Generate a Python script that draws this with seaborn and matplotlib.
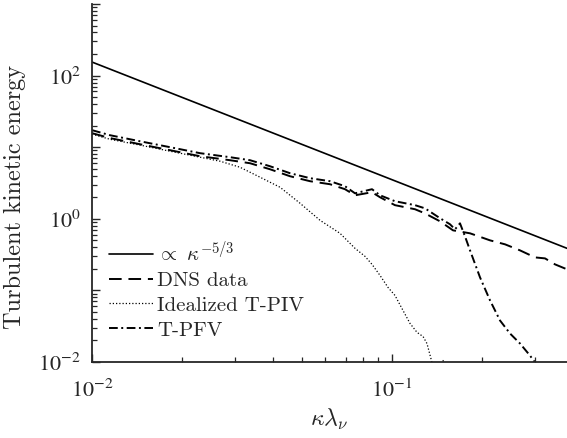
import matplotlib
matplotlib.use("Agg")
import matplotlib.pyplot as plt
import seaborn as sns
from matplotlib.ticker import LogLocator, FuncFormatter, NullFormatter

# Reference slope line
ref_k = [0.01, 0.3831]
ref_e = [154.5, 0.387]

# DNS data
dns_k = [0.01, 0.01148, 0.01445, 0.0182, 0.02291, 0.02884, 0.03363, 0.0392, 0.04571,
         0.0533, 0.06213, 0.06972, 0.07527, 0.08577, 0.0912, 0.1023, 0.1193, 0.1288,
         0.1445, 0.1597, 0.182, 0.2122, 0.2381, 0.2672, 0.2997, 0.3236, 0.3494, 0.3831]
dns_e = [15.7, 13.4, 11.0, 9.08, 7.48, 6.58, 5.97, 4.92, 3.93,
         3.35, 3.04, 2.59, 2.13, 2.35, 2.00, 1.55, 1.36, 1.19,
         0.923, 0.690, 0.627, 0.500, 0.440, 0.362, 0.289, 0.280, 0.231, 0.197]

# Idealized T-PIV
piv_k = [0.01, 0.01148, 0.01445, 0.0182, 0.02291, 0.02672, 0.03113, 0.03631, 0.04233,
         0.04935, 0.05754, 0.06709, 0.07527, 0.08128, 0.08577, 0.0912, 0.09697, 0.1023,
         0.1088, 0.1148, 0.1212, 0.1269, 0.1308, 0.1359, 0.1413, 0.1479, 0.1537]
piv_e = [15.2, 12.9, 10.7, 8.79, 7.25, 6.37, 5.25, 3.81, 2.76,
         1.65, 0.953, 0.627, 0.387, 0.299, 0.231, 0.162, 0.110, 0.0851,
         0.0525, 0.0346, 0.0259, 0.0227, 0.0181, 0.00984, 0.00713, 0.0105, 0.00713]

# T-PFV
pfv_k = [0.01, 0.01148, 0.01445, 0.0182, 0.02291, 0.02884, 0.03363, 0.0392, 0.04571,
         0.0533, 0.06213, 0.06972, 0.07527, 0.08577, 0.0912, 0.1023, 0.1193, 0.1288,
         0.1445, 0.1561, 0.1622, 0.1685, 0.1751, 0.182, 0.1965, 0.2122, 0.2291, 0.2474,
         0.2672, 0.2884, 0.2997, 0.31]
pfv_e = [17.3, 14.7, 12.1, 10.0, 8.25, 7.25, 6.58, 5.42, 4.33,
         3.69, 3.35, 2.85, 2.27, 2.59, 2.13, 1.76, 1.55, 1.40,
         1.02, 0.838, 0.713, 0.865, 0.569, 0.362, 0.152, 0.0725, 0.038, 0.025,
         0.0181, 0.0123, 0.00984, 0.0071]

sns.set_style("ticks")
plt.rcParams["font.family"] = ["cmr10", "DejaVu Serif"]
plt.rcParams["mathtext.fontset"] = "cm"
plt.rcParams["axes.unicode_minus"] = False
plt.rcParams["axes.formatter.use_mathtext"] = True

fig = plt.figure(figsize=(5.67, 4.38), dpi=100)
ax = fig.add_axes([0.1623, 0.1735, 0.8377, 0.8174])

lw = 1.4
sns.lineplot(x=ref_k, y=ref_e, ax=ax, color="black", lw=1.2, estimator=None,
             label=r"$\propto\ \kappa^{-5/3}$")
sns.lineplot(x=dns_k, y=dns_e, ax=ax, color="black", lw=lw, estimator=None,
             linestyle=(0, (6.5, 3.5)), label="DNS data")
sns.lineplot(x=piv_k, y=piv_e, ax=ax, color="black", lw=0.9, estimator=None,
             linestyle=(0, (1, 1.6)), label="Idealized T-PIV")
sns.lineplot(x=pfv_k, y=pfv_e, ax=ax, color="black", lw=lw, estimator=None,
             linestyle=(0, (4.5, 1.8, 1, 1.8)), label="T-PFV")

ax.set_xscale("log")
ax.set_yscale("log")
ax.set_xlim(0.01, 0.3831)
ax.set_ylim(1e-2, 1e3)

for side in ["top", "right"]:
    ax.spines[side].set_visible(False)
for side in ["left", "bottom"]:
    ax.spines[side].set_linewidth(1.3)
    ax.spines[side].set_color("#262626")

ax.xaxis.set_major_locator(LogLocator(base=10, numticks=10))
ax.yaxis.set_major_locator(LogLocator(base=10, numticks=20))
ax.xaxis.set_minor_locator(LogLocator(base=10, subs=range(2, 10), numticks=20))
ax.yaxis.set_minor_locator(LogLocator(base=10, subs=range(2, 10), numticks=20))
ax.xaxis.set_minor_formatter(NullFormatter())
ax.yaxis.set_minor_formatter(NullFormatter())


def fmt_y(v, pos):
    import math
    e = int(round(math.log10(v)))
    return r"$10^{%d}$" % e if e % 2 == 0 else ""


def fmt_x(v, pos):
    import math
    e = int(round(math.log10(v)))
    return r"$10^{%d}$" % e


ax.yaxis.set_major_formatter(FuncFormatter(fmt_y))
ax.xaxis.set_major_formatter(FuncFormatter(fmt_x))
ax.tick_params(which="major", direction="in", length=6, width=1.0, labelsize=16,
               colors="#262626")
ax.tick_params(axis="y", which="major", pad=8)
ax.tick_params(axis="x", which="major", pad=12)
ax.tick_params(which="minor", direction="in", length=3.5, width=0.9, colors="#262626")
for lab in ax.get_xticklabels() + ax.get_yticklabels():
    lab.set_math_fontfamily("stix")

ax.set_xlabel(r"$\kappa\lambda_\nu$", fontsize=17, labelpad=4)
ax.set_ylabel("Turbulent kinetic energy", fontsize=17.5)
ax.yaxis.set_label_coords(-0.14, 0.46)

ax.legend(loc="lower left", bbox_to_anchor=(0.005, 0.022), frameon=False, fontsize=15,
          handlelength=2.1, handletextpad=0.2, labelspacing=0.3, borderaxespad=0.3)

fig.savefig("out.png", dpi=100)
